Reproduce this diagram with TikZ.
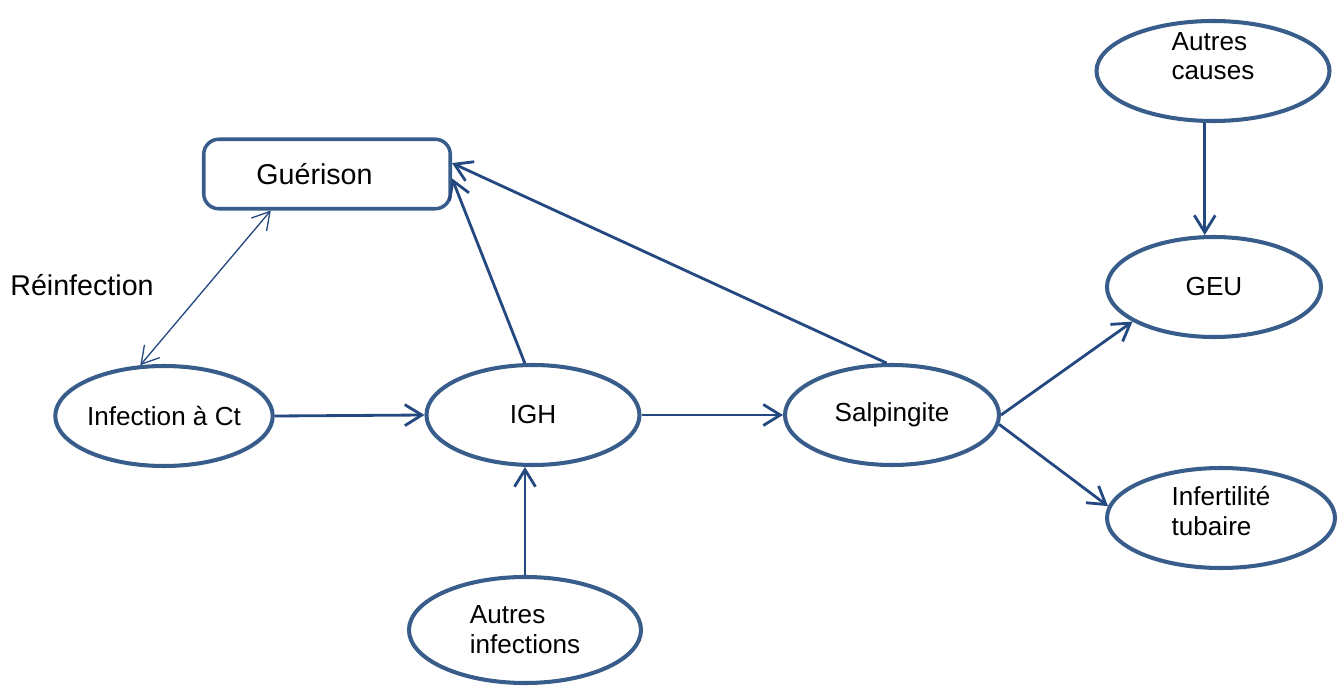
\documentclass[tikz,border=0pt]{standalone}
\usepackage{fontspec}
\setmainfont{Liberation Sans}
\usetikzlibrary{arrows.meta, shapes.geometric, positioning}
\definecolor{ovalline}{RGB}{56,93,138}
\definecolor{arrowline}{RGB}{36,72,128}
\tikzset{
  oval/.style={draw=ovalline, line width=2.3pt, ellipse, inner sep=0pt, align=left,
    font=\fontsize{14.85}{17}\selectfont, minimum width=#1, minimum height=20mm},
  box/.style={draw=ovalline, line width=2pt, rectangle, rounded corners=3mm,
    minimum width=49.3mm, minimum height=13.9mm, font=\fontsize{16.3}{19}\selectfont},
  flow/.style={draw=arrowline, line width=1.6pt, -{Straight Barb[length=3.4mm,width=4.2mm]}},
  thinflow/.style={draw=arrowline, line width=0.75pt,
    {Straight Barb[length=3.4mm,width=4mm]}-{Straight Barb[length=3.4mm,width=4mm]}},
}
\begin{document}
\begin{tikzpicture}[x=0.2mm,y=-0.2mm]
\useasboundingbox (0,0) rectangle (1339,688);

\node[box] at (327,174) (guer) {Gu\'erison\kern5mm};
\node[font=\fontsize{16.3}{19}\selectfont] at (82,285) (reinf) {R\'einfection};
\node[oval=42.8mm] at (164,416) (infct) {Infection \`a Ct};
\node[oval=42.6mm] at (533,415) (igh) {IGH};
\node[oval=42.8mm] at (892,415) (salp) {Salpingite};
\node[oval=46.4mm, minimum height=21.2mm] at (525,630) (autinf) {Autres\\infections};
\node[oval=46.6mm, text depth=6mm, inner ysep=-2mm] at (1213,71) (autcau) {Autres\\causes};
\node[oval=42.8mm] at (1214,287) (geu) {GEU};
\node[oval=45.6mm, text depth=3mm] at (1221,518) (infert) {Infertilit\'e\\tubaire};

\draw[thinflow] (infct.115) -- (guer.213.6);
\draw[flow] (infct.east) -- (igh.west);
\draw[flow] (igh.east) -- (salp.west);
\draw[flow] (autinf.north) -- (autinf.north |- igh.south);
\draw[flow] (igh.99) -- (guer.-2.5);
\draw[flow] (salp.96) -- (guer.5);
\draw[flow] (salp.east) -- (geu.203);
\draw[flow] (salp.-5) -- (infert.174);
\draw[flow] (autcau.-99) -- (autcau.-99 |- geu.north);

\end{tikzpicture}
\end{document}
